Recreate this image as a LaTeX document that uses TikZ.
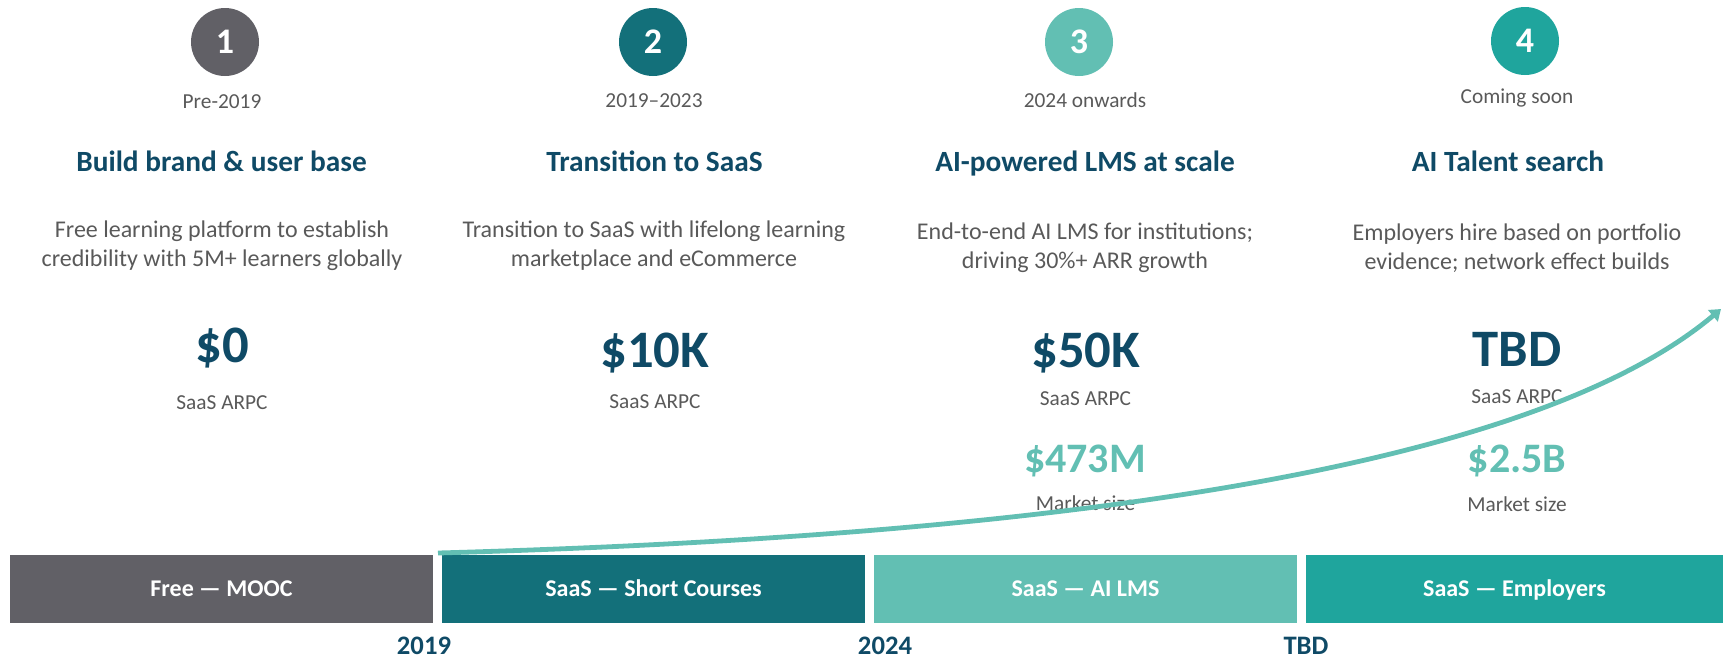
\documentclass[tikz,border=0pt]{standalone}
\usepackage{fontspec}
\setmainfont{Carlito}
\usetikzlibrary{arrows.meta}
\definecolor{mooc}{HTML}{616066}
\definecolor{short}{HTML}{13707A}
\definecolor{lms}{HTML}{62BFB3}
\definecolor{employ}{HTML}{1FA59D}
\definecolor{navy}{HTML}{0F4A66}
\definecolor{body}{HTML}{595959}
\tikzset{
  stepnum/.style={circle,minimum size=51pt,inner sep=0pt,text=white,font=\fontsize{27}{30}\selectfont\bfseries},
  period/.style={anchor=base,text=body,font=\fontsize{16}{19}\selectfont},
  headline/.style={anchor=base,text=navy,font=\fontsize{22}{26}\selectfont\bfseries},
  blurb/.style={anchor=base,align=center,text=body,font=\fontsize{18}{21.4}\selectfont},
  price/.style={anchor=base,text=navy,font=\fontsize{39.5}{44}\selectfont\bfseries},
  market/.style={anchor=base,text=lms,font=\fontsize{31.5}{36}\selectfont\bfseries},
  caption/.style={anchor=base,text=body,font=\fontsize{16}{19}\selectfont},
  phase/.style={minimum width=317.25pt,minimum height=51pt,inner sep=0pt,text=white,
    text height=11.6pt,text depth=0pt,font=\fontsize{18}{21}\selectfont\bfseries},
  year/.style={anchor=base,text=navy,font=\fontsize{20}{24}\selectfont\bfseries},
}
\begin{document}
\begin{tikzpicture}[x=0.75pt,y=-0.75pt]
  \useasboundingbox (0,0) rectangle (1723,658);
  % step circles
  \node[stepnum,fill=mooc]   (c1) at (225,42) {1};
  \node[stepnum,fill=short]  (c2) at (653,42) {2};
  \node[stepnum,fill=lms]    (c3) at (1079,42) {3};
  \node[stepnum,fill=employ] (c4) at (1525,41) {4};
  % periods
  \node[period] (d1) at (222,108) {Pre-2019};
  \node[period] (d2) at (654,107) {2019--2023};
  \node[period] (d3) at (1085,107) {2024 onwards};
  \node[period] (d4) at (1517,103.5) {Coming soon};
  % headlines
  \node[headline] (t1) at (221.5,171) {Build brand \& user base};
  \node[headline] (t2) at (654.5,171) {Transition to SaaS};
  \node[headline] (t3) at (1085,171) {AI-powered LMS at scale};
  \node[headline] (t4) at (1508,171) {AI Talent search};
  % descriptions (base = last line)
  \node[blurb] (s1) at (222,266.5) {Free learning platform to establish\\credibility with 5M+ learners globally};
  \node[blurb] (s2) at (654,266.5) {Transition to SaaS with lifelong learning\\marketplace and eCommerce};
  \node[blurb] (s3) at (1085,268.5) {End-to-end AI LMS for institutions;\\driving 30\%+ ARR growth};
  \node[blurb] (s4) at (1517,269) {Employers hire based on portfolio\\evidence; network effect builds};
  % ARPC
  \node[price] (v1) at (222,362) {\$0};
  \node[price] (v2) at (655,367) {\$10K};
  \node[price] (v3) at (1086,367) {\$50K};
  \node[price] (v4) at (1517,366.5) {TBD};
  \node[caption] (a1) at (222,409) {SaaS ARPC};
  \node[caption] (a2) at (655,408) {SaaS ARPC};
  \node[caption] (a3) at (1085.5,405) {SaaS ARPC};
  \node[caption] (a4) at (1517,403) {SaaS ARPC};
  % market size
  \node[market] (m3) at (1085,472) {\$473M};
  \node[market] (m4) at (1517,472) {\$2.5B};
  \node[caption] (k3) at (1085.5,510) {Market size};
  \node[caption] (k4) at (1517,511) {Market size};
  % phase bars
  \node[phase,fill=mooc]   (b1) at (221.5,589) {Free — MOOC};
  \node[phase,fill=short]  (b2) at (653.5,589) {SaaS — Short Courses};
  \node[phase,fill=lms]    (b3) at (1085.5,588.5) {SaaS — AI LMS};
  \node[phase,fill=employ,minimum width=312.75pt] (b4) at (1514.5,589) {SaaS — Employers};
  % years
  \node[year] (y1) at (424,654.5) {2019};
  \node[year] (y2) at (885,654.5) {2024};
  \node[year] (y3) at (1306,654.5) {TBD};
  % growth arrow
  \coordinate (g0) at (438,553);
  \coordinate (g1) at (1721,309);
  \draw[lms,line width=3.6pt,-{Triangle[length=8pt,width=11pt]}]
    (g0) .. controls (900,540) and (1500,495) .. (g1);
\end{tikzpicture}
\end{document}
